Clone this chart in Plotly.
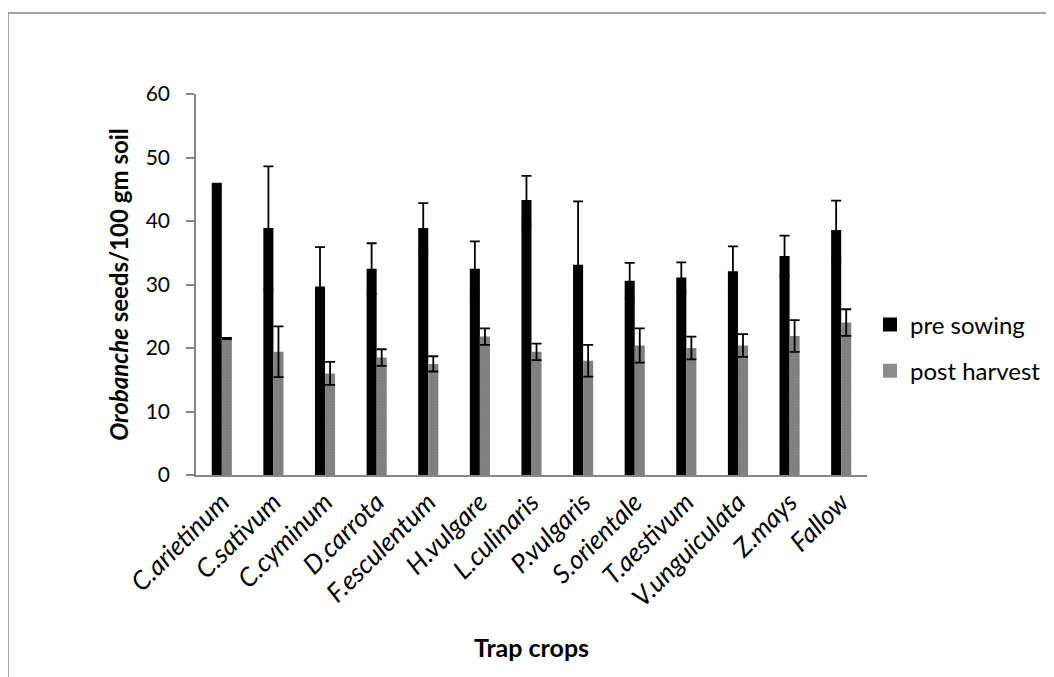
import plotly.graph_objects as go

categories = ["C.arietinum", "C.sativum", "C.cyminum", "D.carrota", "F.esculentum",
              "H.vulgare", "L.culinaris", "P.vulgaris", "S.orientale", "T.aestivum",
              "V.unguiculata", "Z.mays", "Fallow"]
pre_sowing = [45.8, 38.9, 29.7, 32.5, 38.9, 32.5, 43.3, 33.1, 30.6, 31.1, 32.1, 34.5, 38.6]
pre_err = [0.1, 9.7, 6.2, 4.0, 3.9, 4.3, 3.8, 10.0, 2.8, 2.4, 3.9, 3.2, 4.6]
post_harvest = [21.5, 19.4, 16.0, 18.5, 17.5, 21.8, 19.4, 18.0, 20.4, 20.0, 20.4, 21.9, 24.0]
post_err = [0.1, 4.0, 1.8, 1.3, 1.2, 1.3, 1.3, 2.5, 2.7, 1.8, 1.8, 2.5, 2.1]
series_names = ["pre sowing", "post harvest"]
y_ticks = [0, 10, 20, 30, 40, 50, 60]

OFF = 8  # default page body margin
W, H = 1054 - OFF, 677 - OFF
# plot area in page coordinates: x 196..867, y 94..475
L, T = 196 - OFF, 94 - OFF
R = W - (867 - OFF)
B = H - (475 - OFF)
FONT = "Lato"
AX = "#868686"

fig = go.Figure()
fig.add_trace(go.Bar(
    x=categories, y=pre_sowing, name=series_names[0], showlegend=False,
    marker=dict(color="black", line=dict(width=0)),
    error_y=dict(type="data", array=pre_err, color="black", thickness=1.8, width=5),
))
fig.add_trace(go.Bar(
    x=categories, y=post_harvest, name=series_names[1], showlegend=False,
    marker=dict(color="white", line=dict(width=0),
                pattern=dict(shape=".", fgcolor="black", bgcolor="white", size=3, solidity=0.9)),
    error_y=dict(type="data", array=post_err, color="black", thickness=1.8, width=5),
))
# legend entries (larger square swatches, as in the reference)
fig.add_trace(go.Scatter(x=[None], y=[None], mode="markers", name=series_names[0],
                         legendgroup="a",
                         marker=dict(symbol="square", size=14, color="black")))
fig.add_trace(go.Scatter(x=[None], y=[None], mode="markers", name=series_names[1],
                         legendgroup="b",
                         marker=dict(symbol="square", size=14, color="#8c8c8c")))

pw, ph = W - L - R, H - T - B
def px(x): return (x - OFF - L) / pw
def py(y): return (H - B - (y - OFF)) / ph

fig.update_layout(
    width=W, height=H,
    margin=dict(l=L, r=R, t=T, b=B, autoexpand=False),
    paper_bgcolor="white", plot_bgcolor="white",
    barmode="group", bargap=0.61, bargroupgap=0,
    font=dict(family=FONT, size=22, color="black"),
    showlegend=True,
    legend=dict(x=px(870), y=py(348), xanchor="left", yanchor="middle",
                font=dict(size=24, family=FONT), traceorder="grouped",
                tracegroupgap=12, bgcolor="rgba(0,0,0,0)", itemwidth=30),
    xaxis=dict(showline=True, linecolor=AX, linewidth=1.5, ticks="",
               tickangle=-45, tickfont=dict(size=26, family=FONT, style="italic"),
               title=dict(text="<b>Trap crops</b>", font=dict(size=25, family=FONT), standoff=28),
               showgrid=False),
    yaxis=dict(range=[0, 60], tickvals=y_ticks, showline=True, linecolor=AX, linewidth=1.5,
               ticks="outside", ticklen=8, tickcolor=AX, tickwidth=1.5, showgrid=False,
               zeroline=False, ticklabelstandoff=12, tickfont=dict(size=21, family=FONT),
               title=dict(text="<b><i>Orobanche</i> seeds/100 gm soil</b>",
                          font=dict(size=24, family=FONT), standoff=10)),
    shapes=[dict(type="path", xref="paper", yref="paper",
                 path=f"M {px(8)} {py(700)} L {px(8)} {py(13)} L {px(1100)} {py(13)}",
                 line=dict(color=AX, width=1.5))],
)

fig.write_html("out.html")
